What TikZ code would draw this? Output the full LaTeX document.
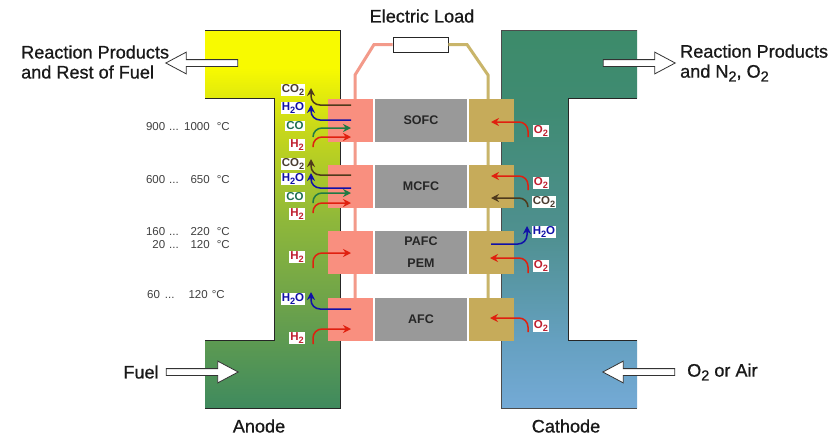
\documentclass[tikz,border=0pt]{standalone}
\usepackage{amsmath}
\usepackage{graphicx}
\usepackage{fontspec}
\setmainfont{Liberation Sans}
\newfontfamily\capfont[FakeBold=0.8]{Liberation Sans}
\usetikzlibrary{arrows.meta, positioning, shapes.arrows}
\definecolor{pinkcell}{HTML}{F98F7F}
\definecolor{goldcell}{HTML}{C6AB5A}
\definecolor{greycell}{HTML}{999999}
\definecolor{pinkwire}{HTML}{F39A8A}
\definecolor{goldwire}{HTML}{C9B56A}
\definecolor{redflow}{HTML}{E0200F}
\definecolor{blueflow}{HTML}{1010A8}
\definecolor{greenflow}{HTML}{1F7A45}
\definecolor{brownflow}{HTML}{4F3A1C}
\definecolor{redlabel}{HTML}{C02030}
\definecolor{greenlabel}{HTML}{1F6F50}
\definecolor{brownlabel}{HTML}{4A3C30}
\definecolor{anodea}{HTML}{3F8A5E}
\definecolor{anodeb}{HTML}{6EA34A}
\definecolor{anodec}{HTML}{8FB83A}
\definecolor{anoded}{HTML}{C8D81A}
\definecolor{anodee}{HTML}{F8FA00}
\definecolor{cathodea}{HTML}{74AAD6}
\definecolor{cathodeb}{HTML}{65A0C0}
\definecolor{cathodec}{HTML}{4F9090}
\definecolor{cathoded}{HTML}{3F8B72}
\definecolor{cathodee}{HTML}{3D8B6A}
\pgfdeclareverticalshading{anodefill}{100bp}{%
	color(0bp)=(anodea); color(25bp)=(anodea); color(39bp)=(anodeb);
	color(50bp)=(anodec); color(62bp)=(anoded); color(70bp)=(anodee); color(100bp)=(anodee)}
\pgfdeclareverticalshading{cathodefill}{100bp}{%
	color(0bp)=(cathodea); color(25bp)=(cathodea); color(34bp)=(cathodeb);
	color(48bp)=(cathodec); color(65bp)=(cathoded); color(75bp)=(cathodee); color(100bp)=(cathodee)}
\newcommand{\two}{\raisebox{-.4ex}{\scalebox{.8}{2}}}
\newcommand{\temprow}[2]{\makebox[19pt][r]{#1}\hspace{4pt}...\makebox[31pt][r]{#2}\hspace{7pt}°C}
\tikzset{%
	cell/.style={draw=none, rectangle, minimum height=43pt, inner sep=0pt},
	stack/.style={cell, minimum width=92pt, fill=greycell, font=\fontsize{12.5}{22}\selectfont\bfseries, text=black!85, align=center},
	anodepart/.style={cell, minimum width=45pt, fill=pinkcell},
	cathodepart/.style={cell, minimum width=45pt, fill=goldcell},
	load/.style={draw=black!85, thick, fill=white, rectangle, minimum width=55pt, minimum height=15pt, inner sep=0pt},
	wire/.style={line width=3pt},
	flow/.style={-{Stealth[length=8pt, width=8pt]}, line width=1.5pt, rounded corners=9pt},
	gas/.style={fill=white, inner sep=1pt, font=\fontsize{11.5}{12}\selectfont\bfseries},
	big/.style={font=\capfont\fontsize{18.1}{20}\selectfont, text=black!90, inner sep=0pt, align=left},
	temp/.style={font=\fontsize{11.5}{12}\selectfont, text=black!75, inner sep=0pt, anchor=west},
	bigarrow/.style={draw=black!80, thick, fill=white, single arrow, inner sep=3pt, minimum width=21pt,%
		minimum height=72pt, single arrow head extend=7.5pt, single arrow tip angle=56}
}
\begin{document}
\begin{tikzpicture}[x=1pt, y=-1pt]
	\useasboundingbox (0,0) rectangle (833,437);
	\fill[white] (0,0) rectangle (833,437);

	% electrode bodies
	\shade[shading=anodefill] (205,30) -- (340,30) -- (340,408) -- (205,408) -- (205,340) -- (274,340)
		-- (274,98) -- (205,98) -- cycle;
	\shade[shading=cathodefill] (501,30) -- (637,30) -- (637,98) -- (568,98) -- (568,340) -- (637,340)
		-- (637,408) -- (501,408) -- cycle;
	\draw[black!85, line width=1pt] (205,30) -- (340,30) -- (340,408) -- (205,408);
	\draw[black!85, line width=1pt] (205,98) -- (274,98) -- (274,340) -- (205,340);
	\draw[black!70] (637,30) -- (501,30) -- (501,408) -- (637,408);
	\draw[black!85, line width=1pt] (637,98) -- (568,98) -- (568,340) -- (637,340);

	% load and wires
	\node[load] (load) at (420.5,44.5) {};
	\coordinate (pinkend) at (355,300);
	\coordinate (goldend) at (488,300);
	\draw[wire, pinkwire] (load.west) -- (374,44.5) -- (355,75) -- (pinkend);
	\draw[wire, goldwire] (load.east) -- (467,44.5) -- (488,75) -- (goldend);

	% cells
	\node[stack] (sofc) at (421,120.5) {SOFC};
	\node[anodepart, left=2pt of sofc] (sofca) {};
	\node[cathodepart, right=2pt of sofc] (sofcc) {};
	\node[stack] (mcfc) at (421,186.5) {MCFC};
	\node[anodepart, left=2pt of mcfc] (mcfca) {};
	\node[cathodepart, right=2pt of mcfc] (mcfcc) {};
	\node[stack] (pafc) at (421,252.5) {PAFC\\PEM};
	\node[anodepart, left=2pt of pafc] (pafca) {};
	\node[cathodepart, right=2pt of pafc] (pafcc) {};
	\node[stack] (afc) at (421,319) {AFC};
	\node[anodepart, left=2pt of afc] (afca) {};
	\node[cathodepart, right=2pt of afc] (afcc) {};

	% gases going in
	\foreach \nm/\sx/\sy/\ex/\ey/\col in {
		a/313/147/351/137/redflow, b/313/137/351/128/greenflow,
		c/313/213/351/203/redflow, d/313/203/351/193/greenflow,
		e/313/268/351/253/redflow, f/313/344/351/329/redflow,
		g/528/137/491/122/redflow, h/528/190/491/176/redflow,
		i/528/207/491/198/brownflow, j/528/273/490/258/redflow,
		k/528/332/490/318/redflow} {
		\coordinate (\nm s) at (\sx,\sy);
		\coordinate (\nm e) at (\ex,\ey);
		\draw[flow, \col] (\nm s) |- (\nm e);
	}
	% gases going out
	\foreach \nm/\sx/\sy/\ex/\ey/\col in {
		m/351/105/311/88/brownflow, n/351/120/311/105/blueflow,
		o/351/175/311/159/brownflow, p/351/188/311/173/blueflow,
		q/351/309/311/292/blueflow, r/491/244/527/226/blueflow} {
		\coordinate (\nm s) at (\sx,\sy);
		\coordinate (\nm e) at (\ex,\ey);
		\draw[flow, \col] (\nm s) -| (\nm e);
	}

	% gas labels
	\foreach \nm/\x/\y/\txt/\col in {
		co2a/293/90/CO\two/brownlabel, h2oa/293/108/H\two O/blueflow,
		coa/295/126/CO/greenlabel, h2a/297/145/H\two/redlabel,
		co2b/293/164/CO\two/brownlabel, h2ob/293/179/H\two O/blueflow,
		cob/295/197/CO/greenlabel, h2b/297/214/H\two/redlabel,
		h2c/297/257/H\two/redlabel, h2od/293/299/H\two O/blueflow,
		h2d/297/338/H\two/redlabel, o2a/541/131/O\two/redlabel,
		o2b/541/183/O\two/redlabel, co2c/544/202/CO\two/brownlabel,
		h2oc/544/232/H\two O/blueflow, o2c/541/266/O\two/redlabel,
		o2d/541/326/O\two/redlabel} {
		\node[gas, text=\col] (\nm) at (\x,\y) {\txt};
	}

	% temperatures
	\node[temp] (tempa) at (146,127) {\temprow{900}{1000}};
	\node[temp] (tempb) at (146,180) {\temprow{600}{650}};
	\node[temp] (tempc) at (146,232) {\temprow{160}{220}};
	\node[temp] (tempd) at (146,245) {\temprow{20}{120}};
	\node[temp] (tempe) at (147,295) {60\hspace{5pt}...\hspace{14pt}120\hspace{4pt}°C};

	% big arrows
	\node[bigarrow, shape border rotate=180] (outa) at (205,63) {};
	\node[bigarrow] (outc) at (636,63) {};
	\node[bigarrow] (ina) at (199,372) {};
	\node[bigarrow, shape border rotate=180] (inc) at (642,372) {};

	% captions
	\node[big, anchor=west] (anodeout) at (21,62) {Reaction Products\\and Rest of Fuel};
	\node[big, anchor=west] (cathodeout) at (680,63) {Reaction Products\\and N\two, O\two};
	\node[big] (title) at (422,16) {Electric Load};
	\node[big] (fuel) at (141,372) {Fuel};
	\node[big, anchor=west] (air) at (687,372) {O\two\ or Air};
	\node[big] (anode) at (259,426) {Anode};
	\node[big] (cathode) at (566,426) {Cathode};
\end{tikzpicture}
\end{document}
